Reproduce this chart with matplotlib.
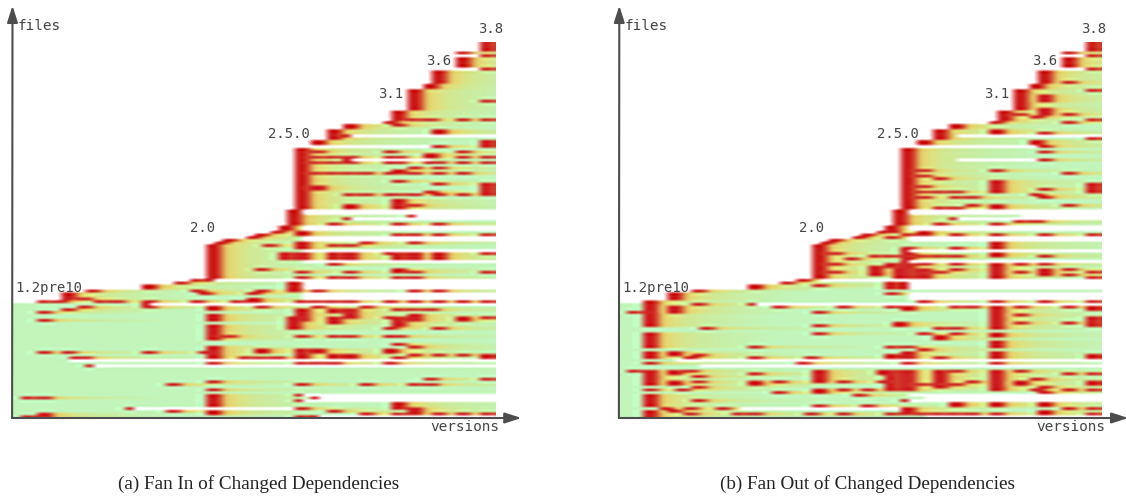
import numpy as np
import matplotlib
matplotlib.use("Agg")
import matplotlib.pyplot as plt
from matplotlib.colors import LinearSegmentedColormap, Normalize

N_ROWS, N_COLS = 141, 60

# first version of each block of files: (first row, last row, version column)
file_births = [(0,3,58),(4,4,55),(5,5,58),(6,9,55),(10,10,58),(11,15,52),(16,17,51),(18,25,49),
               (26,29,47),(30,30,46),(31,32,41),(33,36,39),(37,38,37),(39,39,52),(40,62,35),
               (63,68,34),(69,70,33),(71,71,32),(72,72,30),(73,73,29),(74,74,26),(75,75,25),
               (76,88,24),(89,89,22),(90,90,20),(91,92,16),(93,93,9),(94,96,6),(97,97,3),(98,140,0)]
# versions in which a file is absent: (first row, last row, from column, to column)
file_gaps = [(35,35,42,60),(44,44,42,52),(63,64,36,60),(65,65,50,60),(66,66,42,60),(69,70,36,60),
             (73,74,36,60),(78,78,36,60),(82,82,36,60),(89,89,25,60),(90,92,36,60),(94,96,36,60),
             (98,98,17,60),(119,119,7,60),(121,121,10,60),(132,132,36,60),(133,133,38,60),
             (134,134,36,60),(137,137,15,35),(140,140,38,60)]

# changes by version column; a tuple is an inclusive block of rows
fan_in_changes = {
    1:[133,140], 3:[101,104,116,133,(139,140)], 5:[97], 6:[100,116], 7:[118], 8:[96,99,118], 9:[121],
    10:[97], 12:[97], 14:[137], 16:[(97,98),99,116], 19:[128,138], 22:[93,97], 23:[94,116],
    24:[89,(99,100),(102,104),(106,111),(114,118),120,127,130,(132,136),(138,139)],
    26:[110], 27:[97], 28:[118], 29:[94,96,97], 30:[85,93,99,(115,116),118], 31:[76], 32:[118],
    33:[(79,81)], 34:[(90,93),(103,104),(105,107)],
    35:[71,72,(75,77),(79,81),86,88,97,(100,104),110,(115,118),120,128,132,134,137,140],
    37:[41,43,45,49,(54,55),93,97,99,(115,116),120,133,140],
    39:[43,45,49,68,76,(79,81),83,88,97,(100,101),(103,105),110,117,118,120,138],
    41:[35,43,44,45,49,57,(61,62),66,76,(79,81),86,88,97,(100,103),110,117,118],
    43:[49,57,75,99,128,139],
    46:[41,43,45,49,57,79,97,103,107,110,(115,116),120],
    47:[31,43,45,(48,49),52,57,(59,62),68,72,(79,81),(85,86),88,100,(103,106),110,113,118,(135,137),139],
    49:[29,47,49,57,61,65,72,75,(79,81),86,88,93,97,100,(102,104),114,117,128,(137,139)],
    51:[29,(42,43),45,56,100,126,128],
    52:[33,34,39,45,47,49,53,57,68,72,(79,81),93,97,107,117,139],
    55:[29,41,43,45,49,57,97,(103,104),117,139],
    58:[22,29,(37,39),43,45,(53,57),72,79,86,97,103,(117,118),126,139],
}
fan_out_changes = {
    1:[101,123], 3:[(97,106),(109,114),(116,118),120,(123,128),130,(132,136),(138,140)],
    5:[137], 6:[(99,101),(116,117),(123,124),(127,128),138], 7:[130], 8:[118,123,137,139],
    9:[98,117,125,127,129,134], 10:[107], 12:[137], 14:[139], 16:[98,114,118,124,(127,128),139],
    19:[99,127,131], 22:[120], 23:[118,139], 24:[91,101,106,109,(123,127),(130,131),136],
    26:[79,83,86], 27:[99,127,130,139], 28:[81], 29:[132], 30:[130,136], 31:[80,(84,87)],
    32:[(123,124),127],
    33:[71,73,80,(83,84),(90,92),94,99,114,(117,118),(123,130),139], 34:[(85,88),(105,106)],
    35:[72,(77,88),(90,92),(99,100),114,(116,118),120,(123,130),134,(137,139)],
    37:[48,50,54,56,58,71,72,80,83,(85,88),97,109,115,128,139],
    39:[51,56,62,68,80,86,107,(110,111),118,(123,129),139],
    41:[56,58,62,66,72,77,80,83,85,99,107,109,123,128,(135,136),139],
    43:[58,61,99,127,139],
    46:[(29,30),(33,34),48,(52,56),(61,62),68,72,(75,77),(79,80),(83,88),97,(99,107),(109,110),
        (112,114),(116,118),120,(123,130),(135,136),139],
    49:[27,67,83,86,99,102,105,123,(127,128)],
    51:[28,(37,38),57,67,126,130],
    52:[(20,22),(25,27),34,39,41,44,55,58,72,80,83,(85,87),97,129,131,(135,136),(138,139)],
    55:[15,27,30,49,61,85,87,99,105,124,130,137],
    58:[18,29,36,(53,56),72,86,88,97,(99,100),(103,106),(117,118),124,(127,128),130,137,139],
}

version_labels = ["1.2pre10", "2.0", "2.5.0", "3.1", "3.6", "3.8"]
label_cols_a = [0.4, 22.1, 31.8, 45.5, 51.4, 57.9]
label_cols_b = [0.4, 22.4, 32.0, 45.4, 51.3, 57.4]
label_rows = [92.3, 69.8, 34.6, 19.6, 7.2, -4.8]
captions = ["(a) Fan In of Changed Dependencies", "(b) Fan Out of Changed Dependencies"]

age_stops = [0, 1, 2, 3, 4, 5, 7, 10, 16]
age_colors = ["#d02828", "#d23a2a", "#e4c065", "#e2dc7a", "#d9e488", "#d2e893",
              "#ccec9f", "#c7f0aa", "#c3f5bb"]
cmap = LinearSegmentedColormap.from_list(
    "age", [(a / age_stops[-1], c) for a, c in zip(age_stops, age_colors)])
cmap.set_bad("white")


def age_matrix(changes):
    event = np.zeros((N_ROWS, N_COLS), bool)
    alive = np.ones((N_ROWS, N_COLS), bool)
    for r0, r1, c in file_births:
        alive[r0:r1 + 1, :c] = False
        if c > 0:
            event[r0:r1 + 1, c] = True
    for r0, r1, c0, c1 in file_gaps:
        alive[r0:r1 + 1, c0:c1] = False
    for c, rows in changes.items():
        for item in rows:
            r0, r1 = item if isinstance(item, tuple) else (item, item)
            event[r0:r1 + 1, c] = True
    age = np.full((N_ROWS, N_COLS), float(age_stops[-1]))
    for r in range(N_ROWS):
        last = None
        for c in range(N_COLS):
            if event[r, c]:
                last = c
            if last is not None:
                age[r, c] = min(c - last, age_stops[-1])
    age[~alive] = np.nan
    return np.ma.masked_invalid(age)


plt.rcParams["font.family"] = "DejaVu Sans Mono"
W, H = 1126, 497
fig = plt.figure(figsize=(W / 100, H / 100), dpi=100, facecolor="white")


def panel(x0, changes, label_cols, caption, cap_x):
    ax = fig.add_axes([x0 / W, 1 - 418 / H, 482.5 / W, 376.3 / H])
    ax.imshow(age_matrix(changes), cmap=cmap, norm=Normalize(0, age_stops[-1]), aspect="auto",
              extent=(0, N_COLS, N_ROWS, 0), interpolation="spline16", interpolation_stage="rgba")
    ax.set_xlim(0, N_COLS)
    ax.set_ylim(N_ROWS, 0)
    ax.axis("off")
    grey = "#4d4d4d"
    for end in [(0, -13.5), (63.3, N_ROWS)]:
        ax.annotate("", xy=end, xytext=(-0.05, N_ROWS), annotation_clip=False,
                    arrowprops=dict(arrowstyle="-|>,head_length=1.0,head_width=0.32", color=grey,
                                    lw=1.5, shrinkA=0, shrinkB=0))
    txt = dict(fontsize=10.4, color="#444444", va="center", clip_on=False)
    ax.text(0.6, -5.9, "files", ha="left", **txt)
    ax.text(51.9, 144.2, "versions", ha="left", **txt)
    for s, c, r in zip(version_labels, label_cols, label_rows):
        ax.text(c, r, s, ha="left", **{**txt, "fontsize": 10.0})
    fig.text(cap_x / W, 1 - 484 / H, caption, ha="center", va="center", fontsize=13.8,
             family="Liberation Serif", color="#222222")


panel(12.5, fan_in_changes, label_cols_a, captions[0], 259)
panel(619.3, fan_out_changes, label_cols_b, captions[1], 867)
fig.savefig("out.png", dpi=100, facecolor="white")
